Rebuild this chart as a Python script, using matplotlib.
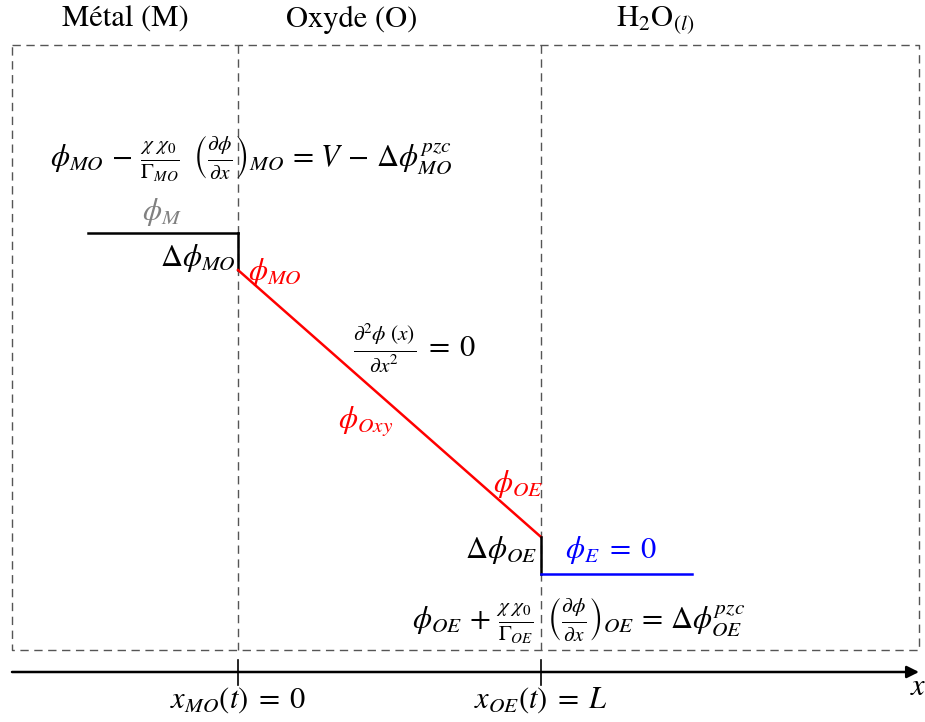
import matplotlib
matplotlib.use("Agg")
import matplotlib.pyplot as plt

plt.rcParams["font.family"] = ["STIXGeneral", "DejaVu Serif"]
plt.rcParams["mathtext.fontset"] = "stix"

# schematic layout, in figure pixel units (y grows downward)
X_LEFT, X_RIGHT = 12, 919
Y_TOP, Y_BOTTOM = 45, 650
X_MO, X_OE = 238, 541
Y_AXIS = 672

# potential profile: metal level, oxide line, electrolyte level
metal_x = [88, X_MO]
metal_y = [233, 233]
jump_mo_y = [233, 270]
oxide_x = [X_MO, X_OE]
oxide_y = [270, 537]
jump_oe_y = [537, 574]
elec_x = [X_OE, 692]
elec_y = [574, 574]

region_labels = ["Métal (M)", "Oxyde (O)", r"H$_2$O$_{(l)}$"]
region_x = [125, 352, 655]

tick_x = [X_MO, X_OE]
tick_labels = [r"$x_{MO}(t)\;=\;0$", r"$x_{OE}(t)\;=\;L$"]

FS = 22

fig = plt.figure(figsize=(9.25, 7.22), dpi=100)
ax = fig.add_axes([0, 0, 1, 1])
ax.set_xlim(0, 925)
ax.set_ylim(722, 0)
ax.axis("off")

# dashed region box and interface lines
dash = dict(color="#555555", lw=1.0, ls=(0, (6, 4)))
ax.plot([X_LEFT, X_RIGHT, X_RIGHT, X_LEFT, X_LEFT],
        [Y_TOP, Y_TOP, Y_BOTTOM, Y_BOTTOM, Y_TOP], **dash)
for xv in tick_x:
    ax.plot([xv, xv], [Y_TOP, Y_BOTTOM], **dash)

# x axis with arrow
ax.annotate("", xy=(919, Y_AXIS), xytext=(X_LEFT, Y_AXIS),
            arrowprops=dict(arrowstyle="-|>", color="black", lw=1.8,
                            mutation_scale=18, shrinkA=0, shrinkB=0))
ax.text(918, 688, r"$x$", fontsize=FS, ha="center", va="center")
for xv, lab in zip(tick_x, tick_labels):
    ax.plot([xv, xv], [660, 685], color="black", lw=1.2)
    ax.text(xv, 700, lab, fontsize=FS, ha="center", va="center")

for xv, lab in zip(region_x, region_labels):
    ax.text(xv, 20, lab, fontsize=FS, ha="center", va="center")

# potential profile
ax.plot(metal_x, metal_y, color="black", lw=1.8)
ax.plot([X_MO, X_MO], jump_mo_y, color="black", lw=1.8)
ax.plot(oxide_x, oxide_y, color="red", lw=1.8)
ax.plot([X_OE, X_OE], jump_oe_y, color="black", lw=1.8)
ax.plot(elec_x, elec_y, color="blue", lw=1.8)

# annotations
ax.text(50, 158,
        r"$\phi_{MO}\,-\,\frac{\chi\ \chi_0}{\Gamma_{MO}}\;\;\left(\frac{\partial\phi}{\partial x}\right)_{MO}\,=\,V\,-\,\Delta\phi_{MO}^{pzc}$",
        fontsize=FS, ha="left", va="center")
ax.text(162, 212, r"$\phi_M$", fontsize=FS, color="gray", ha="center", va="center")
ax.text(236, 258, r"$\Delta\phi_{MO}$", fontsize=FS, ha="right", va="center")
ax.text(248, 272, r"$\phi_{MO}$", fontsize=FS, color="red", ha="left", va="center")
ax.text(353, 348, r"$\frac{\partial^2\phi\ (x)}{\partial x^2}\;=\;0$",
        fontsize=FS, ha="left", va="center")
ax.text(338, 422, r"$\phi_{Oxy}$", fontsize=FS, color="red", ha="left", va="center")
ax.text(493, 484, r"$\phi_{OE}$", fontsize=FS, color="red", ha="left", va="center")
ax.text(537, 550, r"$\Delta\phi_{OE}$", fontsize=FS, ha="right", va="center")
ax.text(565, 550, r"$\phi_E\;=\;0$", fontsize=FS, color="blue", ha="left", va="center")
ax.text(412, 620,
        r"$\phi_{OE}\,+\,\frac{\chi\ \chi_0}{\Gamma_{OE}}\;\;\left(\frac{\partial\phi}{\partial x}\right)_{OE}\,=\,\Delta\phi_{OE}^{pzc}$",
        fontsize=FS, ha="left", va="center")

fig.savefig("out.png", dpi=100)
